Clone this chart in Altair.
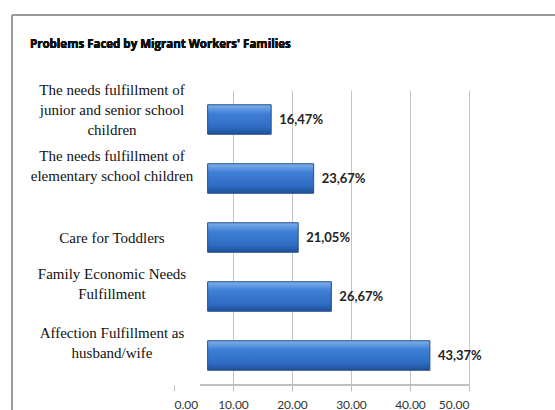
import altair as alt
import pandas as pd

categories = [
    "The needs fulfillment of|junior and senior school|children",
    "The needs fulfillment of|elementary school children",
    "Care for Toddlers",
    "Family Economic Needs|Fulfillment",
    "Affection Fulfillment as|husband/wife",
]
values = [16.47, 23.67, 21.05, 26.67, 43.37]
x_ticks = [0, 10, 20, 30, 40, 50]
title_text = "Problems Faced by Migrant Workers' Families"
BAR_START = 5.7   # the reference's (perspective) bars begin here on the value axis
AXIS_START = 4.4

df = pd.DataFrame({"category": categories, "value": values, "start": BAR_START})

W, H = 295, 295
LEFT, TOP = 174, 90

y_scale = alt.Scale(paddingInner=0.5, paddingOuter=0.25)
y_enc = alt.Y("category:N", sort=categories, scale=y_scale, axis=None)

x_enc = alt.X(
    "value:Q",
    scale=alt.Scale(domain=[0, 50], nice=False),
    axis=alt.Axis(
        title=None,
        values=x_ticks,
        format=".2f",
        grid=True,
        gridColor="#c4c4c4",
        gridWidth=1,
        gridOpacity={"condition": {"test": "datum.value === 0", "value": 0}, "value": 1},
        domain=False,
        ticks=True,
        tickColor="#bdbdbd",
        tickSize=6,
        labelFont="Lato",
        labelFontSize=12,
        labelColor="#333333",
        labelPadding=8,
    ),
)

grad = alt.Gradient(
    gradient="linear",
    stops=[
        alt.GradientStop(color="#7fb0ec", offset=0),
        alt.GradientStop(color="#3f7fd6", offset=0.3),
        alt.GradientStop(color="#2f6cc4", offset=0.75),
        alt.GradientStop(color="#1f4f96", offset=1),
    ],
    x1=0, x2=0, y1=0, y2=1,
)

base = alt.Chart(df)

bars = base.mark_bar(fill=grad, stroke="#24508f", strokeWidth=1).encode(
    x=x_enc, x2="start:Q", y=y_enc
)

value_labels = base.transform_calculate(
    lab="replace(format(datum.value, '.2f'), '.', ',') + '%'"
).mark_text(
    align="left", baseline="middle", dx=8,
    font="Lato", fontSize=13, fontWeight="bold", color="#222222"
).encode(
    x=alt.X("value:Q"), y=alt.Y("category:N", sort=categories, scale=y_scale), text="lab:N"
)


def cat_layer(nlines, dy):
    return base.transform_calculate(
        n="length(split(datum.category, '|'))"
    ).transform_filter(
        alt.datum.n == nlines
    ).mark_text(
        align="center", baseline="middle", dy=dy, lineBreak="|",
        font="Liberation Serif", fontSize=15, lineHeight=20, color="#111111"
    ).encode(
        x=alt.value(112 - LEFT),
        y=alt.Y("category:N", sort=categories, scale=y_scale),
        text="category:N",
    )


cat1 = cat_layer(1, 0)
cat2 = cat_layer(2, -23)
cat3 = cat_layer(3, -30)

axis_line = base.mark_rule(color="#bdbdbd", strokeWidth=1).encode(
    x=alt.datum(AXIS_START), x2=alt.datum(50), y=alt.value(H)
)

title_mark = base.mark_text(
    align="left", baseline="middle", font="Open Sans", fontSize=11.5,
    fontWeight="bold", color="#111111"
).encode(
    x=alt.value(30 - LEFT), y=alt.value(45 - TOP), text=alt.value(title_text)
)

frame_top = base.mark_rule(color="#9a9a9a", strokeWidth=1.5).encode(
    x=alt.value(12 - LEFT), x2=alt.value(555 - LEFT), y=alt.value(15 - TOP)
)
frame_left = base.mark_rule(color="#9a9a9a", strokeWidth=1.5).encode(
    x=alt.value(12 - LEFT), y=alt.value(15 - TOP), y2=alt.value(410 - TOP)
)

chart = alt.layer(
    frame_top, frame_left, axis_line, bars, value_labels, cat1, cat2, cat3, title_mark
).properties(
    width=W,
    height=H,
    autosize=alt.AutoSizeParams(type="none"),
    padding={"left": LEFT, "top": TOP, "right": 555 - LEFT - W, "bottom": 410 - TOP - H},
).configure_view(stroke=None)

chart.save("out.html", embed_options={"renderer": "svg", "actions": False})
